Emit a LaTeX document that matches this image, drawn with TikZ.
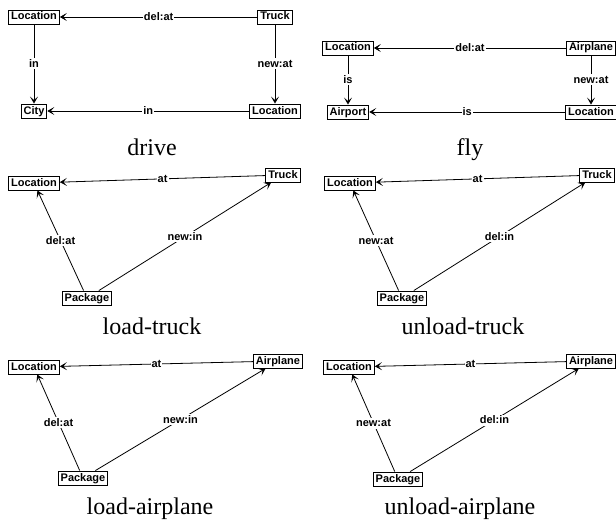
\documentclass[tikz,border=0pt]{standalone}
\usepackage{fontspec}
\usetikzlibrary{arrows.meta}
\newfontfamily\lblfam{Liberation Sans}
\newfontfamily\capfam{Liberation Serif}
\newcommand\lblfont{\lblfam\bfseries\fontsize{11}{13}\selectfont}
\newcommand\capfont{\capfam\fontsize{24}{28}\selectfont}
\tikzset{
  box/.style={draw, line width=0.9pt, fill=white, font=\lblfont, inner xsep=2.5pt, inner ysep=2pt, text height=8pt, text depth=2pt},
  lbl/.style={fill=white, font=\lblfont, inner sep=1pt, text height=8pt, text depth=1pt},
  edge/.style={draw, line width=0.8pt, -{Stealth[length=7pt,width=8pt,inset=3.5pt]}},
  caption/.style={font=\capfont, anchor=base}
}
\begin{document}
\begin{tikzpicture}[x=1pt,y=-1pt]
\useasboundingbox (0,0) rectangle (616,527);
% drive
\node[box] (dL) at (34,17) {Location};
\node[box] (dT) at (275,17) {Truck};
\node[box] (dC) at (34,111) {City};
\node[box] (dL2) at (275,111) {Location};
\draw[edge] (dT) -- node[lbl]{del:at} (dL);
\draw[edge] (dL) -- node[lbl]{in} (dC);
\draw[edge] (dT) -- node[lbl]{new:at} (dL2);
\draw[edge] (dL2) -- node[lbl]{in} (dC);
\node[caption] (cd) at (152,155) {drive};
% fly
\node[box] (fL) at (348,48) {Location};
\node[box] (fA) at (591,48) {Airplane};
\node[box] (fAp) at (348,112) {Airport};
\node[box] (fL2) at (591,112) {Location};
\draw[edge] (fA) -- node[lbl]{del:at} (fL);
\draw[edge] (fL) -- node[lbl]{is} (fAp);
\draw[edge] (fA) -- node[lbl]{new:at} (fL2);
\draw[edge] (fL2) -- node[lbl]{is} (fAp);
\node[caption] (cf) at (470,155) {fly};
% load-truck
\node[box] (ltL) at (34,183) {Location};
\node[box] (ltT) at (283,175) {Truck};
\node[box] (ltP) at (87,298) {Package};
\draw[edge] (ltT) -- node[lbl]{at} (ltL);
\draw[edge] (ltP) -- node[lbl]{del:at} (ltL);
\draw[edge] (ltP) -- node[lbl]{new:in} (ltT);
\node[caption] (clt) at (152,334) {load-truck};
% unload-truck
\node[box] (utL) at (350,183) {Location};
\node[box] (utT) at (597,175) {Truck};
\node[box] (utP) at (402,298) {Package};
\draw[edge] (utT) -- node[lbl]{at} (utL);
\draw[edge] (utP) -- node[lbl]{new:at} (utL);
\draw[edge] (utP) -- node[lbl]{del:in} (utT);
\node[caption] (cut) at (463,334) {unload-truck};
% load-airplane
\node[box] (laL) at (34,367) {Location};
\node[box] (laA) at (278,361) {Airplane};
\node[box] (laP) at (83,478) {Package};
\draw[edge] (laA) -- node[lbl]{at} (laL);
\draw[edge] (laP) -- node[lbl]{del:at} (laL);
\draw[edge] (laP) -- node[lbl]{new:in} (laA);
\node[caption] (cla) at (150,514) {load-airplane};
% unload-airplane
\node[box] (uaL) at (349,367) {Location};
\node[box] (uaA) at (591,361) {Airplane};
\node[box] (uaP) at (398,479) {Package};
\draw[edge] (uaA) -- node[lbl]{at} (uaL);
\draw[edge] (uaP) -- node[lbl]{new:at} (uaL);
\draw[edge] (uaP) -- node[lbl]{del:in} (uaA);
\node[caption] (cua) at (460,514) {unload-airplane};
\end{tikzpicture}
\end{document}
